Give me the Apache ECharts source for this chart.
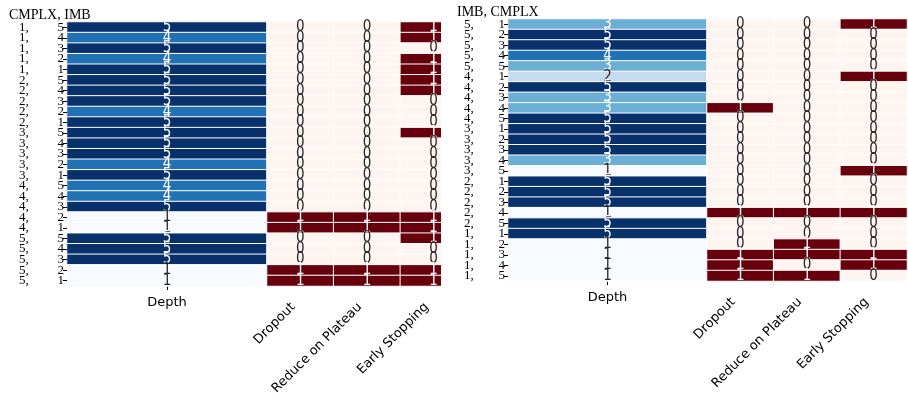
<!DOCTYPE html>
<html>
<head>
<meta charset="utf-8">
<script src="https://cdn.jsdelivr.net/npm/echarts@6/dist/echarts.min.js"></script>
<style>
  html, body { margin: 0; padding: 0; background: #fff; }
  #chart { width: 908px; height: 402px; }
</style>
</head>
<body>
<div id="chart"></div>
<script>
// binary options shown next to depth
const binaryCols = ['Dropout', 'Reduce on Plateau', 'Early Stopping']

// left panel: CMPLX, IMB
const leftFirst = [1, 1, 1, 1, 1, 2, 2, 2, 2, 2, 3, 3, 3, 3, 3, 4, 4, 4, 4, 4, 5, 5, 5, 5, 5]
const leftSecond = [5, 4, 3, 2, 1, 5, 4, 3, 2, 1, 5, 4, 3, 2, 1, 5, 4, 3, 2, 1, 5, 4, 3, 2, 1]
const leftDepth = [5, 4, 5, 4, 5, 5, 5, 5, 4, 5, 5, 5, 5, 4, 5, 4, 4, 5, 1, 1, 5, 5, 5, 1, 1]
const leftDropout = [0, 0, 0, 0, 0, 0, 0, 0, 0, 0, 0, 0, 0, 0, 0, 0, 0, 0, 1, 1, 0, 0, 0, 1, 1]
const leftPlateau = [0, 0, 0, 0, 0, 0, 0, 0, 0, 0, 0, 0, 0, 0, 0, 0, 0, 0, 1, 1, 0, 0, 0, 1, 1]
const leftEarly = [1, 1, 0, 1, 1, 1, 1, 0, 0, 0, 1, 0, 0, 0, 0, 0, 0, 0, 1, 1, 1, 0, 0, 1, 1]

// right panel: IMB, CMPLX
const rightFirst = [5, 5, 5, 5, 5, 4, 4, 4, 4, 4, 3, 3, 3, 3, 3, 2, 2, 2, 2, 2, 1, 1, 1, 1, 1]
const rightSecond = [1, 2, 3, 4, 5, 1, 2, 3, 4, 5, 1, 2, 3, 4, 5, 1, 2, 3, 4, 5, 1, 2, 3, 4, 5]
const rightDepth = [3, 5, 5, 4, 3, 2, 5, 3, 3, 5, 5, 5, 5, 3, 1, 5, 5, 5, 1, 5, 5, 1, 1, 1, 1]
const rightDropout = [0, 0, 0, 0, 0, 0, 0, 0, 1, 0, 0, 0, 0, 0, 0, 0, 0, 0, 1, 0, 0, 0, 1, 1, 1]
const rightPlateau = [0, 0, 0, 0, 0, 0, 0, 0, 0, 0, 0, 0, 0, 0, 0, 0, 0, 0, 1, 0, 0, 1, 1, 0, 1]
const rightEarly = [1, 0, 0, 0, 0, 1, 0, 0, 0, 0, 0, 0, 0, 0, 1, 0, 0, 0, 1, 0, 0, 0, 1, 1, 0]

const DARK = '#262626'
const LIGHT = '#ffffff'
const cellFont = { fontFamily: 'DejaVu Sans Condensed', fontSize: 15 }

const rowIdx = leftDepth.map((_, i) => i)

function depthData(vals) {
  return vals.map((v, i) => ({
    value: [0, i, v],
    label: { color: v >= 3 ? LIGHT : DARK }
  }))
}

function binaryData(cols) {
  const out = []
  cols.forEach((vals, c) => {
    vals.forEach((v, i) => {
      out.push({ value: [c, i, v], label: { color: v >= 0.5 ? LIGHT : DARK } })
    })
  })
  return out
}

function yLabelAxis(gridIndex, first, second, aw) {
  return {
    type: 'category',
    gridIndex,
    inverse: true,
    z: 10,
    data: rowIdx,
    axisLine: { show: false },
    axisTick: { show: true, interval: 0, alignWithLabel: true, length: 4, lineStyle: { color: '#000' } },
    axisLabel: {
      margin: 3,
      interval: 0,
      formatter: (v) => `{a|${first[v]},}{b|${second[v]}}`,
      rich: {
        a: { width: aw, align: 'left', fontFamily: 'Liberation Serif', fontSize: 13, color: '#000' },
        b: { width: 8, align: 'right', fontFamily: 'Liberation Serif', fontSize: 13, color: '#000' }
      }
    },
    splitLine: { show: false }
  }
}

function hiddenY(gridIndex) {
  return {
    type: 'category',
    gridIndex,
    inverse: true,
    data: rowIdx,
    axisLine: { show: false },
    axisTick: { show: false },
    axisLabel: { show: false }
  }
}

function depthX(gridIndex) {
  return {
    type: 'category',
    gridIndex,
    data: ['Depth'],
    axisLine: { show: false },
    axisTick: { show: true, alignWithLabel: true, length: 4, lineStyle: { color: '#000' } },
    axisLabel: { margin: 10, fontFamily: 'DejaVu Sans', fontSize: 13, color: '#000' }
  }
}

function binaryX(gridIndex) {
  return {
    type: 'category',
    gridIndex,
    data: binaryCols,
    axisLine: { show: false },
    axisTick: { show: false },
    axisLabel: {
      rotate: 45, margin: 12, padding: [0, 10, 0, 0], interval: 0,
      fontFamily: 'DejaVu Sans', fontSize: 13, color: '#000'
    }
  }
}

function heat(xi, data) {
  return {
    type: 'heatmap',
    xAxisIndex: xi,
    yAxisIndex: xi,
    data,
    label: { show: true, formatter: (p) => p.value[2], ...cellFont },
    itemStyle: { borderColor: '#fff', borderWidth: 1 },
    emphasis: { disabled: true }
  }
}

const chart = echarts.init(document.getElementById('chart'))
chart.setOption({
  animation: false,
  backgroundColor: '#fff',
  title: [
    { text: 'CMPLX, IMB', left: 4, top: 3, textStyle: { fontFamily: 'Liberation Serif', fontSize: 14, fontWeight: 'normal', color: '#000' } },
    { text: 'IMB, CMPLX', left: 452, top: 0, textStyle: { fontFamily: 'Liberation Serif', fontSize: 14, fontWeight: 'normal', color: '#000' } }
  ],
  grid: [
    { left: 67, top: 22, width: 200, height: 264 },
    { left: 267, top: 22, width: 200, height: 264 },
    { left: 508, top: 19, width: 199, height: 262 },
    { left: 707, top: 19, width: 200, height: 262 }
  ],
  xAxis: [depthX(0), binaryX(1), depthX(2), binaryX(3)],
  yAxis: [
    yLabelAxis(0, leftFirst, leftSecond, 37),
    hiddenY(1),
    yLabelAxis(2, rightFirst, rightSecond, 33),
    hiddenY(3)
  ],
  visualMap: [
    {
      show: false, seriesIndex: [0, 2], min: 1, max: 5, dimension: 2,
      inRange: { color: ['#f7fbff', '#deebf7', '#c6dbef', '#9ecae1', '#6baed6', '#4292c6', '#2171b5', '#08519c', '#08306b'] }
    },
    {
      show: false, seriesIndex: [1, 3], min: 0, max: 1, dimension: 2,
      inRange: { color: ['#fff5f0', '#67000d'] }
    }
  ],
  graphic: [
    { type: 'rect', left: 441, top: 0, shape: { width: 66, height: 288 }, style: { fill: '#fff' }, z: 5 }
  ],
  series: [
    heat(0, depthData(leftDepth)),
    heat(1, binaryData([leftDropout, leftPlateau, leftEarly])),
    heat(2, depthData(rightDepth)),
    heat(3, binaryData([rightDropout, rightPlateau, rightEarly]))
  ]
})
</script>
</body>
</html>
